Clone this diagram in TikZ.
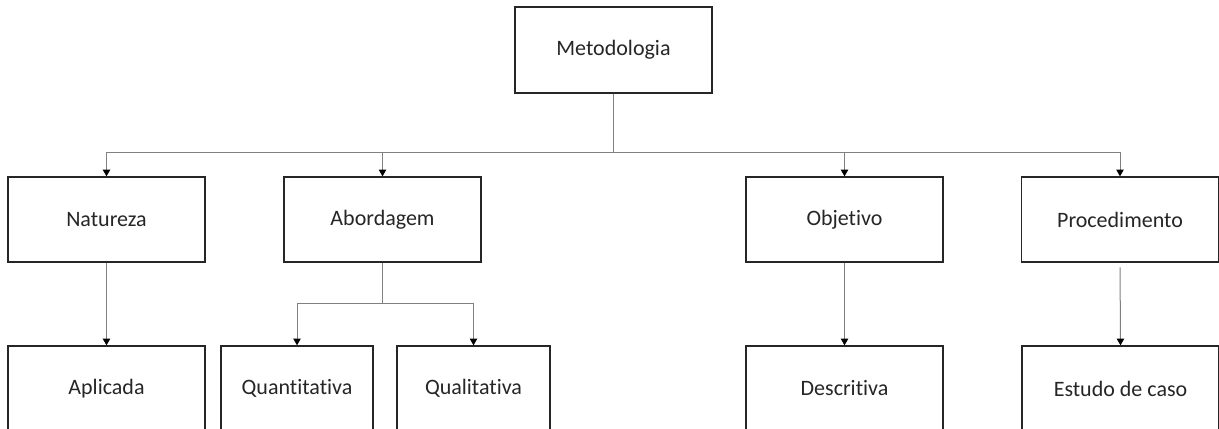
\documentclass[tikz,border=0pt]{standalone}
\usepackage{fontspec}
\setmainfont{Carlito}[Ligatures=NoCommon]
\usetikzlibrary{arrows.meta}
\begin{document}
\begin{tikzpicture}[x=0.75pt,y=-0.75pt,
  box/.style={draw=black!85, line width=1pt, minimum width=147.75pt,
    minimum height=63.75pt, inner sep=0pt, text=black!85,
    font=\fontsize{16.5}{20}\selectfont},
  link/.style={draw=black!50, line width=0.75pt},
  arr/.style={link, -{Triangle[length=5pt,width=5.5pt,color=black]}}]
\useasboundingbox (0,0) rectangle (1219,428);
\clip (0,0) rectangle (1219,428);
\fill[white] (0,0) rectangle (1219,428);

% top level
\node[box, minimum height=64.5pt] (met) at (613.5,50) {Metodologia};

% second level
\node[box] (nat) at (106.5,219.5) {Natureza};
\node[box] (abo) at (382.5,219.5) {Abordagem};
\node[box] (obj) at (844.5,219.5) {Objetivo};
\node[box] (pro) at (1120,219.5) {Procedimento};

% third level (boxes run past the lower edge)
\node[box] (apl) at (106.5,388.5) {Aplicada};
\node[box, minimum width=114pt] (qtt) at (297,388.5) {Quantitativa};
\node[box, minimum width=114.75pt] (qlt) at (473.5,388.5) {Qualitativa};
\node[box] (des) at (844.5,388.5) {Descritiva};
\node[box] (est) at (1120.5,388.5) {Estudo de caso};

% branching from the root
\coordinate (bus) at (613.5,152);
\draw[link] (met.south) -- (bus);
\draw[arr] (bus) -| (nat.north);
\draw[arr] (bus) -| (abo.north);
\draw[arr] (bus) -| (obj.north);
\draw[arr] (bus) -| (pro.north);

% branching from Abordagem
\coordinate (fork) at (382.5,303);
\draw[link] (abo.south) -- (fork);
\draw[arr] (fork) -| (qtt.north);
\draw[arr] (fork) -| (qlt.north);

% single children
\draw[arr] (nat.south) -- (apl.north);
\draw[arr] (obj.south) -- (des.north);
\draw[arr, shorten <=3.5pt] (pro.south) -- (est.north);
\end{tikzpicture}
\end{document}
